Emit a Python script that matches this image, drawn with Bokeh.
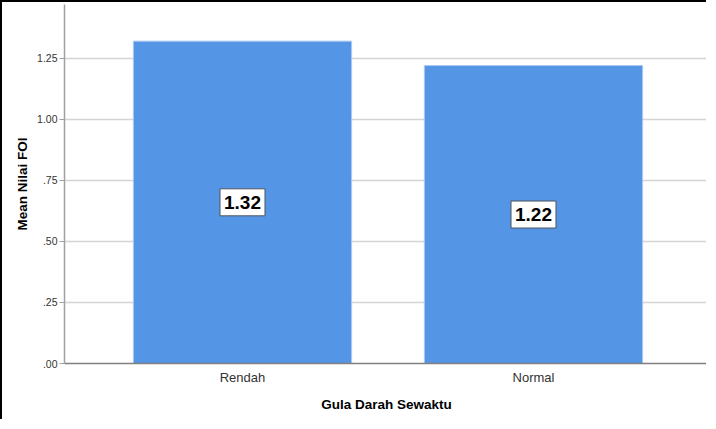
from bokeh.plotting import figure
from bokeh.models import Range1d, FixedTicker, ColumnDataSource, Label
from bokeh.embed import file_html
from bokeh.resources import INLINE

categories = ["Rendah", "Normal"]
means = [1.32, 1.22]
y_ticks = [0.0, 0.25, 0.5, 0.75, 1.0, 1.25]
y_tick_labels = [".00", ".25", ".50", ".75", "1.00", "1.25"]

xs = [i + 1 for i in range(len(categories))]
src = ColumnDataSource(dict(x=xs, top=means))

FONT = "Liberation Sans"

p = figure(width=706, height=419, output_backend="svg", toolbar_location=None,
           x_range=Range1d(0.3883, 2.6014), y_range=Range1d(0, 1.47),
           min_border_left=62, min_border_top=2, min_border_bottom=58,
           min_border_right=0)
p.styles = {"border-top": "2px solid black", "border-left": "2px solid black"}
p.outline_line_color = None
p.background_fill_color = "white"
p.border_fill_color = "white"

p.vbar(x="x", top="top", width=0.75, source=src, fill_color="#5595E5",
       line_color="#a9c9f2", line_width=1)

for x, m in zip(xs, means):
    p.add_layout(Label(x=x, y=m / 2, text=f"{m:.2f}",
                       text_align="center", text_baseline="middle",
                       text_font=FONT, text_font_size="19px", text_font_style="bold",
                       text_color="black", background_fill_color="white",
                       border_line_color="#4d5560", border_line_width=1,
                       padding=(4, 7)))

# y axis
p.yaxis.ticker = FixedTicker(ticks=y_ticks)
p.yaxis.major_label_overrides = {t: l for t, l in zip(y_ticks, y_tick_labels)}
p.yaxis.axis_label = "Mean Nilai FOI"
p.yaxis.axis_label_text_font = FONT
p.yaxis.axis_label_text_font_size = "13.5px"
p.yaxis.axis_label_text_font_style = "bold"
p.yaxis.axis_label_text_color = "black"
p.yaxis.axis_label_standoff = 4
p.yaxis.major_label_text_font = FONT
p.yaxis.major_label_text_font_size = "10.5px"
p.yaxis.major_label_text_color = "#333333"
p.yaxis.major_label_standoff = 2
p.yaxis.axis_line_color = "#a0a0a0"
p.yaxis.axis_line_width = 1.5
p.yaxis.major_tick_line_color = "#a0a0a0"
p.yaxis.major_tick_in = 0
p.yaxis.major_tick_out = 5
p.yaxis.minor_tick_line_color = None

# x axis
p.xaxis.ticker = FixedTicker(ticks=xs)
p.xaxis.major_label_overrides = {x: c for x, c in zip(xs, categories)}
p.xaxis.axis_label = "Gula Darah Sewaktu"
p.xaxis.axis_label_text_font = FONT
p.xaxis.axis_label_text_font_size = "13.5px"
p.xaxis.axis_label_text_font_style = "bold"
p.xaxis.axis_label_text_color = "black"
p.xaxis.axis_label_standoff = 9
p.xaxis.major_label_text_font = FONT
p.xaxis.major_label_text_font_size = "13px"
p.xaxis.major_label_text_color = "#333333"
p.xaxis.major_label_standoff = 0
p.xaxis.axis_line_color = "#808080"
p.xaxis.axis_line_width = 1.5
p.xaxis.major_tick_line_color = None
p.xaxis.minor_tick_line_color = None

p.xgrid.grid_line_color = None
p.ygrid.ticker = FixedTicker(ticks=y_ticks[1:])
p.ygrid.grid_line_color = "#d4d4d4"
p.ygrid.grid_line_width = 1.5

open("out.html", "w").write(file_html(p, INLINE))
